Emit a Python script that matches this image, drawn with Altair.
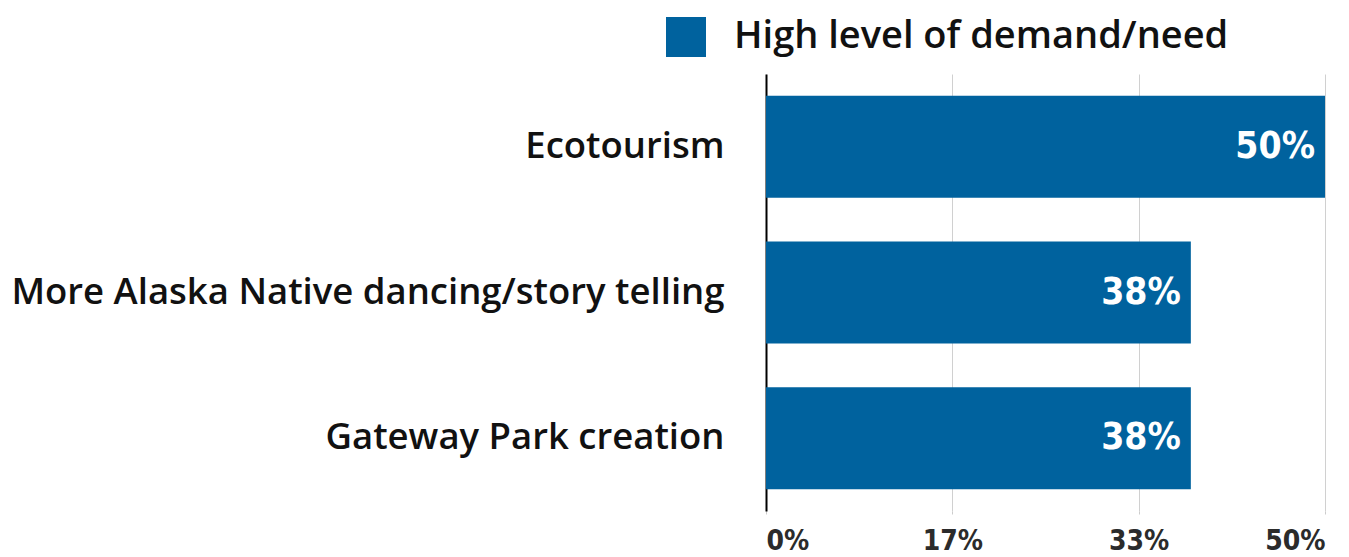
import altair as alt
import pandas as pd

categories = ["Ecotourism", "More Alaska Native dancing/story telling", "Gateway Park creation"]
values = [50, 38, 38]
series_name = "High level of demand/need"
tick_values = [0, 50/3, 100/3, 50]

df = pd.DataFrame({"category": categories, "value": values, "series": [series_name]*3})

BLUE = "#00629e"
LABEL_FONT = "Open Sans"
NUM_FONT = "DejaVu Sans Condensed"

base = alt.Chart(df).encode(
    y=alt.Y("category:N", sort=categories,
            scale=alt.Scale(paddingInner=0.3, paddingOuter=0.15),
            axis=alt.Axis(title=None, labelFont=LABEL_FONT, labelFontSize=36.5, labelFontWeight=600,
                          labelColor="#111111", labelPadding=42, ticks=False, domain=True,
                          domainColor="#000000", domainWidth=2, grid=False, labelLimit=1000))
)

bars = base.mark_bar().encode(
    x=alt.X("value:Q", scale=alt.Scale(domain=[0, 50], nice=False),
            axis=alt.Axis(title=None, values=tick_values, labelExpr="format(datum.value/100, '.0%')",
                          labelFont=NUM_FONT, labelFontSize=28, labelFontWeight="bold",
                          labelColor="#2b2b2b", domain=False, ticks=True, tickSize=3,
                          tickColor="#cccccc", gridColor="#d0d0d0", gridWidth=1, labelPadding=13)),
    color=alt.Color("series:N", scale=alt.Scale(range=[BLUE]),
                    legend=alt.Legend(title=None, orient="none", legendX=-100, legendY=-57,
                                      symbolType="square", symbolSize=1600, symbolStrokeWidth=0,
                                      labelFont=LABEL_FONT, labelFontSize=38, labelFontWeight=600,
                                      labelColor="#111111", labelOffset=28, labelLimit=1000))
)

text = base.mark_text(align="right", baseline="middle", dx=-10, color="white",
                      font=NUM_FONT, fontSize=37, fontWeight="bold").encode(
    x=alt.X("value:Q"),
).transform_calculate(lbl="datum.value + '%'").encode(text="lbl:N")

chart = (bars + text).properties(width=559, height=437, padding={"left": 2, "top": 9, "right": 0, "bottom": 0}).configure_view(stroke=None)

chart.save("out.html", embed_options={"renderer": "svg", "actions": False})
